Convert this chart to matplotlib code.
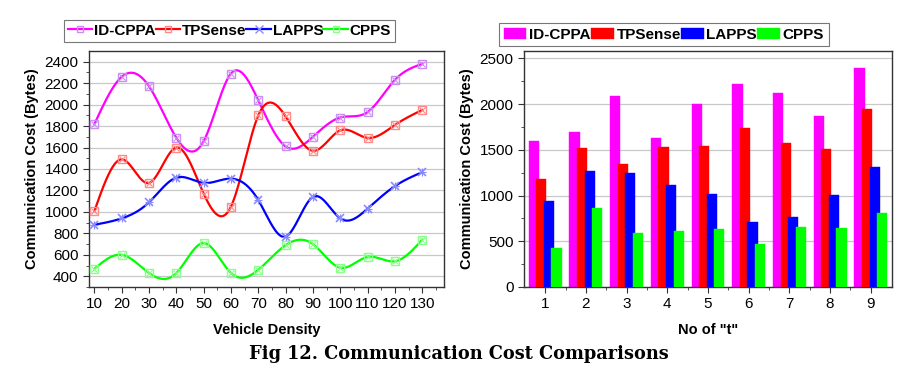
import numpy as np
import matplotlib
matplotlib.use("Agg")
import matplotlib.pyplot as plt
from matplotlib.lines import Line2D

plt.rcParams['font.family'] = ['Liberation Sans', 'DejaVu Sans']

# left panel: cost vs vehicle density
density = [10, 20, 30, 40, 50, 60, 70, 80, 90, 100, 110, 120, 130]
idcppa_line = [1820, 2260, 2170, 1690, 1660, 2290, 2040, 1610, 1700, 1880, 1930, 2230, 2380]
tpsense_line = [1010, 1490, 1270, 1600, 1170, 1050, 1900, 1890, 1570, 1760, 1690, 1810, 1950]
lapps_line = [880, 940, 1090, 1320, 1270, 1310, 1110, 770, 1140, 940, 1030, 1240, 1370]
cpps_line = [470, 600, 430, 430, 710, 430, 460, 690, 700, 480, 580, 540, 740]

# right panel: cost vs number of "t"
t_values = [1, 2, 3, 4, 5, 6, 7, 8, 9]
idcppa_bar = [1600, 1690, 2090, 1630, 2000, 2220, 2120, 1870, 2390]
tpsense_bar = [1180, 1520, 1350, 1530, 1545, 1740, 1575, 1510, 1950]
lapps_bar = [940, 1270, 1250, 1120, 1020, 710, 770, 1010, 1310]
cpps_bar = [430, 860, 595, 610, 630, 470, 655, 645, 810]

names = ['ID-CPPA', 'TPSense', 'LAPPS', 'CPPS']
colors = ['#ff00ff', '#ff0000', '#0000ff', '#00ff00']
mk_colors = ['#c890f0', '#ff8a8a', '#8a8aff', '#8aff8a']


def natural_spline(x, y, n=400):
    """Natural cubic spline through the points, just for the smooth look."""
    x = np.asarray(x, float)
    y = np.asarray(y, float)
    k = len(x)
    h = np.diff(x)
    A = np.zeros((k, k))
    b = np.zeros(k)
    A[0, 0] = A[-1, -1] = 1
    for i in range(1, k - 1):
        A[i, i - 1] = h[i - 1]
        A[i, i] = 2 * (h[i - 1] + h[i])
        A[i, i + 1] = h[i]
        b[i] = 6 * ((y[i + 1] - y[i]) / h[i] - (y[i] - y[i - 1]) / h[i - 1])
    m = np.linalg.solve(A, b)
    xs = np.linspace(x[0], x[-1], n)
    idx = np.clip(np.searchsorted(x, xs) - 1, 0, k - 2)
    x0, x1 = x[idx], x[idx + 1]
    hh = x1 - x0
    t0, t1 = x1 - xs, xs - x0
    ys = (m[idx] * t0 ** 3 + m[idx + 1] * t1 ** 3) / (6 * hh) \
        + (y[idx] / hh - m[idx] * hh / 6) * t0 \
        + (y[idx + 1] / hh - m[idx + 1] * hh / 6) * t1
    return xs, ys


fig = plt.figure(figsize=(9.17, 3.86), dpi=100)
ax1 = fig.add_axes([89 / 917, 1 - 287 / 386, 355 / 917, 236 / 386])
ax2 = fig.add_axes([524 / 917, 1 - 287 / 386, 368 / 917, 236 / 386])

for ax in (ax1, ax2):
    for s in ax.spines.values():
        s.set_color('#333333')
        s.set_linewidth(1.0)
    ax.tick_params(which='both', direction='out', top=False, right=False, colors='#333333')
    ax.tick_params(which='major', length=4, labelsize=11, labelcolor='black')
    ax.tick_params(which='minor', length=2.5)
    ax.grid(axis='y', color='#c8c8c8', linewidth=0.9)
    ax.set_axisbelow(True)

# ---- left: smoothed lines
series = [idcppa_line, tpsense_line, lapps_line, cpps_line]
handles = []
for vals, c, mc, nm in zip(series, colors, mk_colors, names):
    xs, ys = natural_spline(density, vals)
    ax1.plot(xs, ys, color=c, lw=1.6, zorder=3)
    if nm == 'LAPPS':
        ax1.plot(density, vals, ls='none', marker='x', ms=6, mew=1.2, color=mc, zorder=4)
        ax1.plot(density, vals, ls='none', marker='+', ms=6, mew=0.8, color=mc, zorder=4)
        handles.append(Line2D([], [], color=c, lw=1.6, marker='x', ms=6, mec=mc))
    else:
        ax1.plot(density, vals, ls='none', marker='s', ms=5.5, mfc='none', mew=1.0, mec=mc, zorder=4)
        ax1.plot(density, vals, ls='none', marker='x', ms=4, mew=0.8, color=mc, zorder=4)
        handles.append(Line2D([], [], color=c, lw=1.6, marker='s', ms=5, mfc='none', mec=mc))

ax1.set_xlim(8, 138)
ax1.set_ylim(345, 2500)
ax1.set_xticks(density)
ax1.set_xticks(np.arange(15, 136, 10), minor=True)
ax1.set_yticks(np.arange(400, 2401, 200))
ax1.set_yticks(np.arange(300, 2500, 100), minor=True)
ax1.set_xlabel('Vehicle Density', fontsize=10.5, fontweight='bold', labelpad=8)
ax1.set_ylabel('Communication Cost (Bytes)', fontsize=10.5, fontweight='bold', labelpad=4)
leg1 = ax1.legend(handles, names, ncol=4, loc='lower left', bbox_to_anchor=(-0.07, 1.04),
                  prop={'weight': 'bold', 'size': 11}, handlelength=1.6, handletextpad=0.12,
                  columnspacing=0.0, borderpad=0.25, fancybox=False, frameon=True,
                  borderaxespad=0)
leg1.get_frame().set_edgecolor('#555555')
leg1.get_frame().set_linewidth(0.8)

# ---- right: grouped bars
bars = [idcppa_bar, tpsense_bar, lapps_bar, cpps_bar]
x = np.array(t_values, float)
step = 0.185
width = 0.25
for i, (vals, c, nm) in enumerate(zip(bars, colors, names)):
    ax2.bar(x + (i - 1.5) * step, vals, width=width, color=c, edgecolor=c,
            linewidth=0.3, label=nm, zorder=2 + i)

ax2.set_xlim(0.48, 9.52)
ax2.set_ylim(0, 2580)
ax2.set_xticks(t_values)
ax2.set_xticks(np.arange(1.5, 9.0, 1.0), minor=True)
ax2.set_yticks(np.arange(0, 2501, 500))
ax2.set_yticks(np.arange(250, 2580, 500), minor=True)
ax2.set_xlabel('No of "t"', fontsize=10.5, fontweight='bold', labelpad=8)
ax2.set_ylabel('Communication Cost (Bytes)', fontsize=10.5, fontweight='bold', labelpad=4)
leg2 = ax2.legend(ncol=4, loc='lower left', bbox_to_anchor=(-0.068, 1.02),
                  prop={'weight': 'bold', 'size': 11}, handlelength=1.5, handleheight=0.8,
                  handletextpad=0.18, columnspacing=0.0, borderpad=0.3, fancybox=False,
                  frameon=True, borderaxespad=0)
leg2.get_frame().set_edgecolor('#555555')
leg2.get_frame().set_linewidth(0.8)

fig.text(0.5, 1 - 354 / 386, 'Fig 12. Communication Cost Comparisons', ha='center', va='center',
         fontsize=12.8, fontweight='bold', family='DejaVu Serif')

fig.savefig('out.png', dpi=100)
